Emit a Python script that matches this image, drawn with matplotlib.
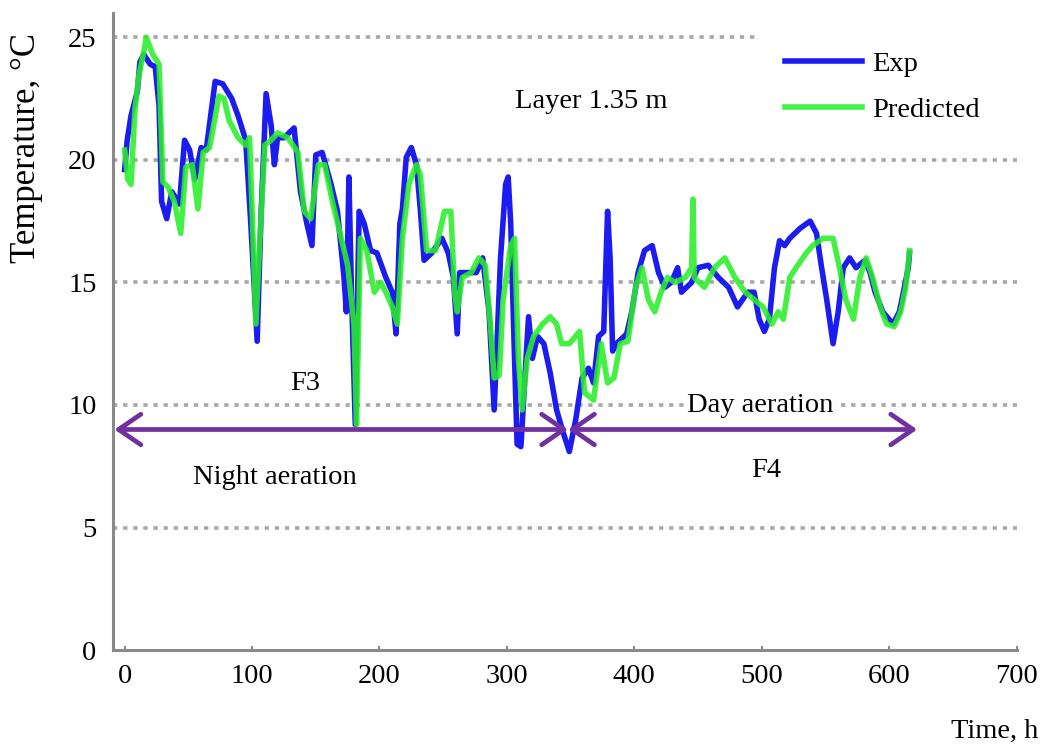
import matplotlib
matplotlib.use("Agg")
import matplotlib.pyplot as plt

# ---- data ----
exp_h = [0, 2, 5, 7, 10, 12, 15, 20, 24, 27, 29, 33, 37, 43, 47, 51, 55, 60, 64, 67, 71, 77, 84, 89, 95,
         99, 104, 107, 111, 115, 117.5, 120, 125, 133, 138, 143, 147, 150, 155, 162, 167, 172, 174, 176, 178,
         181, 184, 188, 193, 198, 205, 210, 213, 216, 218, 221, 225, 229, 232, 235, 241, 249, 254, 258, 261,
         263, 270, 276, 281, 286, 290, 292, 295, 299, 301, 303, 306, 308, 311, 315, 317, 320, 324, 329, 334,
         339, 344, 349, 354, 359, 364, 368, 372, 376, 379, 381, 383, 386, 394, 398, 403, 408, 414, 419, 424,
         429, 434, 437, 445, 450, 458, 466, 474, 481, 489, 494, 498, 502, 506, 510, 514, 518, 522, 530, 538,
         543, 547, 551, 556, 560, 564, 569, 574, 581, 585, 589, 595, 603, 608, 612, 615, 616]
exp_t = [19.6, 20.8, 21.8, 22.2, 22.8, 24.0, 24.3, 23.9, 23.8, 22.2, 18.3, 17.6, 18.7, 18.2, 20.8, 20.4, 19.2,
         20.5, 20.4, 21.6, 23.2, 23.1, 22.5, 21.8, 20.8,
         17.4, 12.6, 17.7, 22.7, 21.4, 19.8, 20.9, 20.9, 21.3, 18.7, 17.4, 16.5, 20.2, 20.3, 19.0, 17.9, 15.3,
         13.8, 19.3, 14.6, 9.2, 17.9, 17.4, 16.3, 16.2, 15.2, 14.6, 12.9, 17.4, 18.0, 20.1, 20.5, 19.8, 18.0,
         15.9, 16.2, 16.8, 16.2, 15.2, 12.9, 15.4, 15.4, 15.4, 16.0, 13.8, 9.8, 12.2, 16.0, 19.0, 19.3, 17.4,
         11.9, 8.4, 8.3, 11.9, 13.6, 11.9, 12.8, 12.5, 11.3, 9.8, 8.9, 8.1, 9.4, 11.1, 11.5, 10.9, 12.8, 13.0,
         17.9, 16.0, 12.2, 12.5, 12.9, 13.8, 15.4, 16.3, 16.5, 15.4, 14.8, 15.0, 15.6, 14.6, 15.0, 15.6, 15.7,
         15.2, 14.8, 14.0, 14.6, 14.6, 13.5, 13.0, 13.5, 15.6, 16.7, 16.5, 16.8, 17.2, 17.5, 17.0, 15.6, 14.3,
         12.5, 13.8, 15.6, 16.0, 15.6, 15.9, 15.4, 14.6, 13.8, 13.3, 13.8, 14.8, 15.6, 16.2]

pred_h = [0, 2.5, 5, 8, 11, 15, 17, 22, 27, 30, 34, 39, 44, 48, 53, 57.5, 61.6, 66.6, 74, 78, 82, 89, 95,
          98, 100, 103, 106, 110, 115, 120, 128, 136, 141, 146, 152, 157, 163, 170, 175, 180, 182, 185, 190,
          196, 201, 205, 210, 214, 218, 223, 229, 232, 237, 244, 251, 256, 259, 261, 265, 272, 278, 283, 287,
          290, 294, 297, 303, 306, 309, 312, 316, 321, 328, 334, 339, 343, 349, 357, 361, 368, 374, 379, 384,
          389, 395, 401, 406, 411, 416, 421, 426, 432, 440, 445, 446, 447, 455, 463, 471, 479, 487, 494, 501,
          508, 513, 517, 522, 527, 535, 540, 548, 556, 561, 566, 572, 577, 582, 587, 593, 598, 604, 609, 613, 616]
pred_t = [20.4, 19.2, 19.0, 22.0, 23.4, 24.4, 25.0, 24.3, 23.9, 19.1, 18.9, 18.3, 17.0, 19.7, 19.8, 18.0,
          20.3, 20.5, 22.6, 22.5, 21.6, 20.9, 20.6,
          20.9, 18.0, 13.3, 16.6, 20.6, 20.8, 21.1, 20.9, 20.3, 17.9, 17.6, 19.8, 19.8, 18.3, 16.8, 15.7, 13.3,
          9.2, 16.8, 16.3, 14.6, 15.0, 14.6, 14.0, 13.3, 16.8, 19.0, 19.8, 19.4, 16.3, 16.3, 17.9, 17.9, 14.6,
          13.8, 15.2, 15.4, 16.0, 15.7, 13.3, 11.1, 11.2, 14.3, 16.5, 16.8, 11.9, 9.8, 11.9, 12.8, 13.3, 13.6,
          13.3, 12.5, 12.5, 13.0, 10.5, 10.2, 12.5, 10.9, 11.1, 12.5, 12.6, 14.8, 15.6, 14.3, 13.8, 14.6, 15.2,
          15.0, 15.2, 15.6, 18.4, 15.2, 14.8, 15.6, 16.0, 15.2, 14.6, 14.3, 14.0, 13.3, 13.8, 13.5, 15.2, 15.6,
          16.2, 16.5, 16.8, 16.8, 15.6, 14.3, 13.5, 15.2, 16.0, 15.2, 14.0, 13.3, 13.2, 13.8, 14.8, 16.3]

x_ticks = [0, 100, 200, 300, 400, 500, 600, 700]
y_ticks = [0, 5, 10, 15, 20, 25]
grid_levels = [5, 10, 15, 20, 25]
grid_ends = [700, 700, 700, 700, 497]
night_span = [-8, 348]
day_span = [348, 622]
arrow_level = 9.0

SERIF = "Liberation Serif"
plt.rcParams["font.family"] = [SERIF, "DejaVu Serif"]

fig = plt.figure(figsize=(10.48, 7.49), dpi=100)
ax = fig.add_axes([0.108, 0.132, 0.862, 0.851])
ax.set_xlim(-9, 700)
ax.set_ylim(0, 26)

grey = "#8a8a8a"
for lvl, xe in zip(grid_levels, grid_ends):
    ax.plot([-9, xe], [lvl, lvl], color="#a8a8a8", lw=2.6, ls=(0, (1.2, 1.6)), zorder=1)

ax.plot(exp_h, exp_t, color="#1c1cf0", lw=4.0, label="Exp", zorder=3, solid_joinstyle="round")
ax.plot(pred_h, pred_t, color="#2aee2a", lw=4.0, alpha=0.88, label="Predicted", zorder=4,
        solid_joinstyle="round")

purple = "#7030A0"
ax.annotate("", xy=(night_span[0], arrow_level), xytext=(night_span[1], arrow_level),
            arrowprops=dict(arrowstyle="<->,head_length=0.8,head_width=0.55", color=purple, lw=3.4,
                            mutation_scale=20, shrinkA=0, shrinkB=0), zorder=5)
ax.annotate("", xy=(day_span[0], arrow_level), xytext=(day_span[1], arrow_level),
            arrowprops=dict(arrowstyle="<->,head_length=0.8,head_width=0.55", color=purple, lw=3.4,
                            mutation_scale=20, shrinkA=0, shrinkB=0), zorder=5)

fs = 20.5
ax.text(366, 22.1, "Layer 1.35 m", ha="center", va="baseline", fontsize=fs)
ax.text(141.7, 10.6, "F3", ha="center", va="baseline", fontsize=fs)
ax.text(118, 6.78, "Night aeration", ha="center", va="baseline", fontsize=fs)
ax.text(499, 9.71, "Day aeration", ha="center", va="baseline", fontsize=fs,
        bbox=dict(facecolor="white", edgecolor="none", pad=1), zorder=6)
ax.text(503.5, 7.06, "F4", ha="center", va="baseline", fontsize=fs)

for s in ["top", "right"]:
    ax.spines[s].set_visible(False)
for s in ["left", "bottom"]:
    ax.spines[s].set_color(grey)
    ax.spines[s].set_linewidth(2.2)

ax.set_xticks(x_ticks)
ax.set_yticks(y_ticks)
ax.tick_params(axis="x", direction="in", length=3, width=1.5, color=grey, labelsize=fs, pad=10)
ax.tick_params(axis="y", length=0, labelsize=fs, pad=12)

fig.text(27 / 1048, 1 - 148 / 749, "Temperature, °C", rotation=90, ha="center", va="center", fontsize=25)
fig.text(1038 / 1048, 1 - 738 / 749, "Time, h", ha="right", va="baseline", fontsize=fs)

leg = ax.legend(loc="upper left", bbox_to_anchor=(785 / 1048, 1 - 51 / 749), bbox_transform=fig.transFigure,
                frameon=False, fontsize=fs, handlelength=2.7, handletextpad=0.35, labelspacing=0.72,
                borderpad=0, borderaxespad=0)
for line in leg.get_lines():
    line.set_linewidth(4.0)

fig.savefig("out.png", dpi=100)
